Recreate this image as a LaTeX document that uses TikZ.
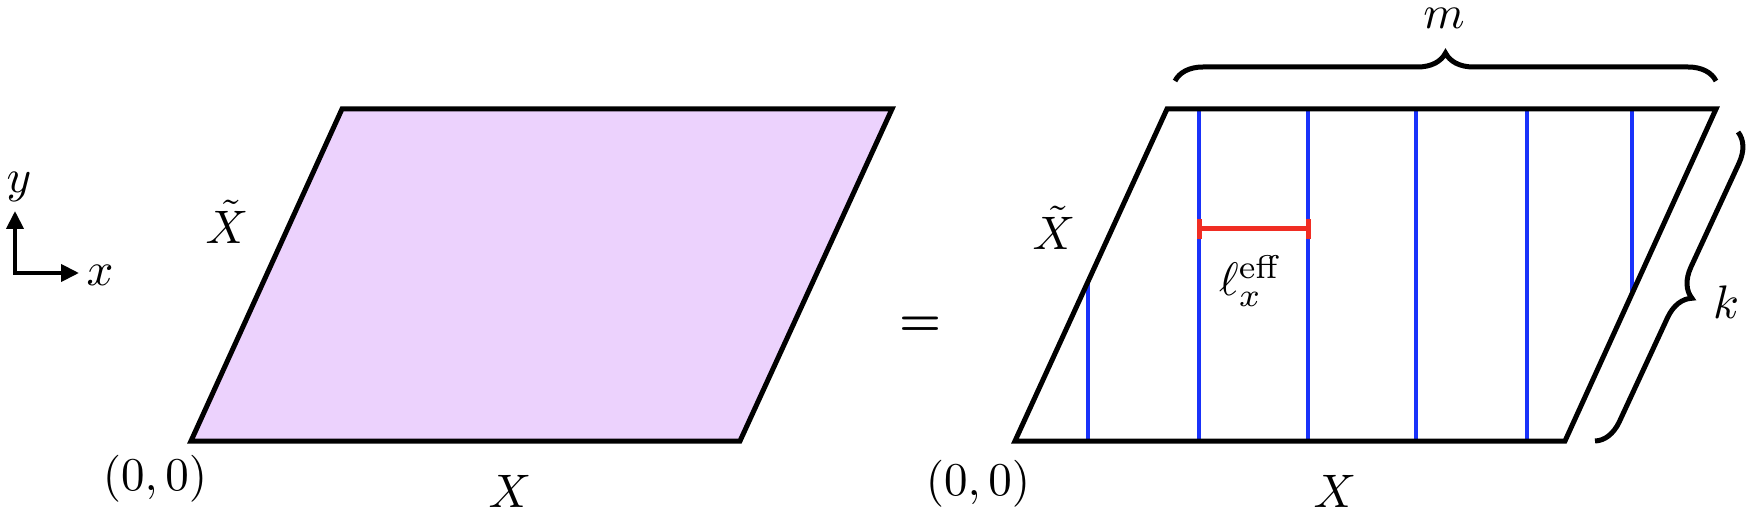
\RequirePackage{fix-cm}
\documentclass[tikz,border=0pt]{standalone}
\usetikzlibrary{decorations.pathreplacing,arrows.meta}
\definecolor{fillp}{RGB}{236,210,253}
\definecolor{bl}{RGB}{25,50,250}
\definecolor{rd}{RGB}{240,45,35}
\begin{document}
\begin{tikzpicture}[x=1pt,y=-1pt,
  lbl/.style={inner sep=0pt,scale=4.7,font=\fontsize{10}{12}\selectfont},
  edge/.style={line width=5pt,black},
  blueline/.style={line width=4.5pt,bl},
  redline/.style={line width=5pt,rd},
  bracestyle/.style={line width=5pt,decorate,decoration={brace,amplitude=28pt}},
  axis/.style={line width=4pt,{Triangle[length=18pt,width=17pt]}-{Triangle[length=18pt,width=17pt]}}]
\useasboundingbox (0,0) rectangle (1759,518);
% axes
\coordinate (o) at (15,273);
\coordinate (ay) at (15,211);
\coordinate (ax) at (79,273);
\draw[axis] (ay) -- (o) -- (ax);
\node[lbl] (ylab) at (19,187) {$y$};
\node[lbl] (xlab) at (100,275) {$x$};
% left parallelogram
\coordinate (a1) at (191,441);
\coordinate (a2) at (740,441);
\coordinate (a3) at (892,109);
\coordinate (a4) at (342,109);
\draw[edge,fill=fillp] (a1) -- (a2) -- (a3) -- (a4) -- cycle;
\node[lbl] (xtl) at (227,222) {$\tilde X$};
\node[lbl] (xl) at (510,491) {$X$};
\node[lbl] (ol) at (155,479) {$(0,0)$};
% equals
\node[lbl,anchor=base] (eq) at (920,336) {\bfseries =};
% right parallelogram
\coordinate (b1) at (1015,441);
\coordinate (b2) at (1565,441);
\coordinate (b3) at (1716,109);
\coordinate (b4) at (1167,109);
\coordinate (l1t) at (1088,281);
\coordinate (l1b) at (1088,441);
\coordinate (l2t) at (1199,109);
\coordinate (l2b) at (1199,441);
\coordinate (l3t) at (1308,109);
\coordinate (l3b) at (1308,441);
\coordinate (l4t) at (1416,109);
\coordinate (l4b) at (1416,441);
\coordinate (l5t) at (1527,109);
\coordinate (l5b) at (1527,441);
\coordinate (l6t) at (1632,109);
\coordinate (l6b) at (1632,295);
\foreach \i in {1,...,6} {\draw[blueline] (l\i t) -- (l\i b);}
\draw[edge] (b1) -- (b2) -- (b3) -- (b4) -- cycle;
% red bar
\coordinate (r1) at (1199,229);
\coordinate (r2) at (1308,229);
\draw[redline] (r1) -- (r2);
\draw[redline] ([yshift=-10pt]r1) -- ([yshift=10pt]r1);
\draw[redline] ([yshift=-10pt]r2) -- ([yshift=10pt]r2);
\node[lbl] (leff) at (1251,281) {$\ell_x^{\mathrm{eff}}$};
\node[lbl] (xtr) at (1054,228) {$\tilde X$};
\node[lbl] (xr) at (1335,491) {$X$};
\node[lbl] (or) at (978,484) {$(0,0)$};
% braces
\coordinate (m1) at (1175,81);
\coordinate (m2) at (1716,81);
\draw[bracestyle] (m1) -- (m2);
\node[lbl] (mlab) at (1444,18) {$m$};
\coordinate (k1) at (1738,132);
\coordinate (k2) at (1595,441);
\draw[bracestyle] (k1) -- (k2);
\node[lbl] (klab) at (1726,302) {$k$};
\end{tikzpicture}
\end{document}
